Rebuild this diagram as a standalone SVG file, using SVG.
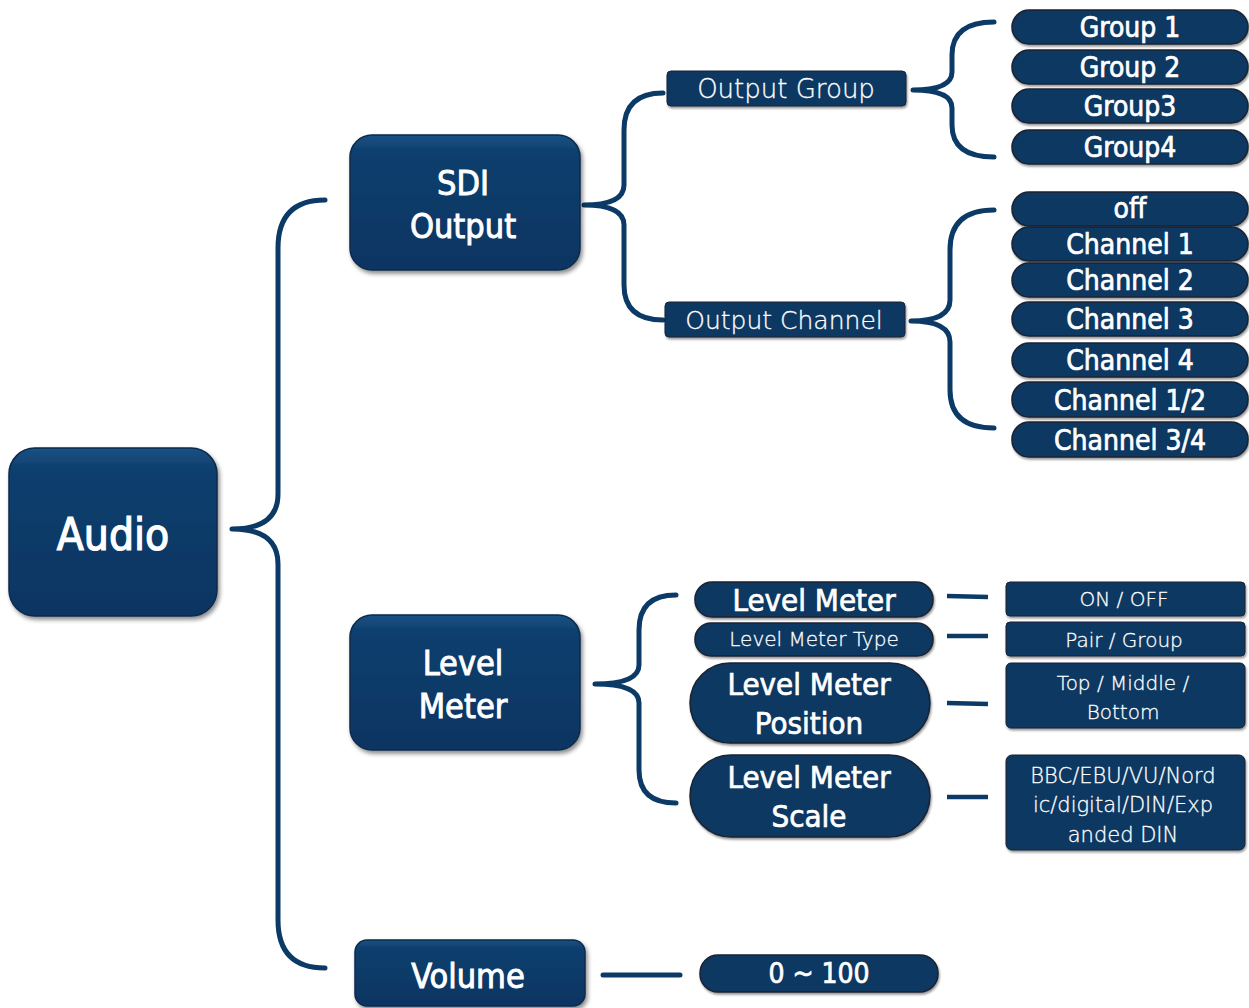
<svg xmlns="http://www.w3.org/2000/svg" width="1249" height="1008" viewBox="0 0 1249 1008">
<defs>
<linearGradient id="boxg" x1="0" y1="0" x2="0" y2="1">
<stop offset="0" stop-color="#1b5286"/>
<stop offset="0.12" stop-color="#0e3f6d"/>
<stop offset="1" stop-color="#093562"/>
</linearGradient>
<filter id="sh" x="-10%" y="-10%" width="125%" height="130%">
<feDropShadow dx="2" dy="3" stdDeviation="2" flood-color="#000" flood-opacity="0.45"/>
</filter>
<filter id="sh2" x="-5%" y="-20%" width="110%" height="150%">
<feDropShadow dx="1" dy="2" stdDeviation="1.2" flood-color="#000" flood-opacity="0.4"/>
</filter>
</defs>
<style>
.box{fill:url(#boxg);stroke:#0a2a4a;stroke-width:1.5;filter:url(#sh)}
.pill{fill:#0a3762;stroke:#1c2330;stroke-width:1.5;filter:url(#sh2)}
.rbox{fill:#0a3762;stroke:#1c2330;stroke-width:1;filter:url(#sh2)}
.conn{fill:none;stroke:#0c3a66;stroke-width:5;stroke-linecap:round;stroke-linejoin:round}
.dash{fill:none;stroke:#0c3a66;stroke-width:4.5}
text{fill:#ffffff;stroke:#ffffff;stroke-width:0.7;text-anchor:middle;font-family:"DejaVu Sans Condensed","DejaVu Sans",sans-serif;font-stretch:condensed}
.big{font-size:44px;stroke-width:1.2}
.mid{font-size:34px;stroke-width:0.9}
.opt{font-size:28px}
.lt{font-family:"DejaVu Sans",sans-serif;font-weight:200;font-stretch:normal;stroke-width:0.3}
</style>
<g id="connectors">
<path class="conn" d="M325,200 Q278,200 278,248 L278,494 Q278,529 232,529 Q278,529 278,564 L278,920 Q278,968 325,968"/>
<path class="conn" d="M663,93 Q624,93 624,130 L624,185 Q624,205 584,205 Q624,205 624,225 L624,285 Q624,320 663,320"/>
<path class="conn" d="M994,22 Q952,22 952,55 L952,72 Q952,90 913,90 Q952,90 952,108 L952,125 Q952,157 994,157"/>
<path class="conn" d="M994,210 Q950,210 950,250 L950,300 Q950,321 911,321 Q950,321 950,342 L950,390 Q950,428 994,428"/>
<path class="conn" d="M676,595 Q639,595 639,630 L639,665 Q639,684 595,684 Q639,684 639,703 L639,770 Q639,803 676,803"/>
<line class="dash" x1="947" y1="596" x2="988" y2="597"/>
<line class="dash" x1="947" y1="636" x2="988" y2="636"/>
<line class="dash" x1="947" y1="703" x2="988" y2="704"/>
<line class="dash" x1="947" y1="797" x2="988" y2="797"/>
<line class="conn" x1="603" y1="975" x2="680" y2="975"/>
</g>
<g id="audio"><rect class="box" x="9" y="448" width="208" height="168" rx="26"/><text class="big" x="113" y="550">Audio</text></g>
<g id="sdi-output"><rect class="box" x="350" y="135" width="230" height="135" rx="22"/><text class="mid" x="463" y="195">SDI</text><text class="mid" x="463" y="238">Output</text></g>
<g id="level-meter"><rect class="box" x="350" y="615" width="230" height="135" rx="22"/><text class="mid" x="463" y="675">Level</text><text class="mid" x="463" y="718">Meter</text></g>
<g id="volume"><rect class="box" x="355" y="940" width="230" height="66" rx="12"/><text class="mid" x="468" y="988">Volume</text></g>
<g id="output-group"><rect class="rbox" x="667" y="71" width="239" height="35" rx="4"/><text class="lt" font-size="26" x="786" y="98">Output Group</text></g>
<g id="output-channel"><rect class="rbox" x="665" y="302" width="240" height="35" rx="4"/><text class="lt" font-size="25" x="784" y="329">Output Channel</text></g>
<g id="group1"><rect class="pill" x="1012" y="10" width="236" height="34" rx="17"/><text class="opt" x="1130" y="37">Group 1</text></g>
<g id="group2"><rect class="pill" x="1012" y="50" width="236" height="34" rx="17"/><text class="opt" x="1130" y="77">Group 2</text></g>
<g id="group3"><rect class="pill" x="1012" y="89" width="236" height="34" rx="17"/><text class="opt" x="1130" y="116">Group3</text></g>
<g id="group4"><rect class="pill" x="1012" y="130" width="236" height="34" rx="17"/><text class="opt" x="1130" y="157">Group4</text></g>
<g id="off"><rect class="pill" x="1012" y="192" width="236" height="34" rx="17"/><text class="opt" x="1130" y="218">off</text></g>
<g id="channel1"><rect class="pill" x="1012" y="227" width="236" height="34" rx="17"/><text class="opt" x="1130" y="254">Channel 1</text></g>
<g id="channel2"><rect class="pill" x="1012" y="263" width="236" height="34" rx="17"/><text class="opt" x="1130" y="290">Channel 2</text></g>
<g id="channel3"><rect class="pill" x="1012" y="302" width="236" height="34" rx="17"/><text class="opt" x="1130" y="329">Channel 3</text></g>
<g id="channel4"><rect class="pill" x="1012" y="343" width="236" height="34" rx="17"/><text class="opt" x="1130" y="370">Channel 4</text></g>
<g id="channel12"><rect class="pill" x="1012" y="382" width="236" height="35" rx="17"/><text class="opt" x="1130" y="410">Channel 1/2</text></g>
<g id="channel34"><rect class="pill" x="1012" y="422" width="236" height="35" rx="17"/><text class="opt" x="1130" y="450">Channel 3/4</text></g>
<g id="lm-onoff-item"><rect class="pill" x="695" y="582" width="238" height="35" rx="17"/><text font-size="31" x="814" y="611">Level Meter</text></g>
<g id="lm-type-item"><rect class="pill" x="695" y="623" width="238" height="33" rx="16"/><text class="lt" font-size="20" x="814" y="646">Level Meter Type</text></g>
<g id="lm-position-item"><rect class="pill" x="690" y="663" width="240" height="80" rx="40"/><text font-size="31" x="809" y="695">Level Meter</text><text font-size="31" x="809" y="734">Position</text></g>
<g id="lm-scale-item"><rect class="pill" x="690" y="755" width="240" height="82" rx="41"/><text font-size="31" x="809" y="788">Level Meter</text><text font-size="31" x="809" y="827">Scale</text></g>
<g id="onoff"><rect class="rbox" x="1006" y="582" width="239" height="34" rx="4"/><text class="lt" font-size="20" x="1124" y="606">ON / OFF</text></g>
<g id="pairgroup"><rect class="rbox" x="1006" y="622" width="239" height="34" rx="4"/><text class="lt" font-size="20" x="1124" y="647">Pair / Group</text></g>
<g id="position-vals"><rect class="rbox" x="1006" y="663" width="239" height="65" rx="5"/><text class="lt" font-size="20" x="1123" y="690">Top / Middle /</text><text class="lt" font-size="20" x="1123" y="719">Bottom</text></g>
<g id="scale-vals"><rect class="rbox" x="1006" y="755" width="239" height="95" rx="6"/><text class="lt" font-size="21" x="1123" y="783">BBC/EBU/VU/Nord</text><text class="lt" font-size="21" x="1123" y="812">ic/digital/DIN/Exp</text><text class="lt" font-size="21" x="1123" y="842">anded DIN</text></g>
<g id="volume-range"><rect class="pill" x="700" y="955" width="238" height="37" rx="18"/><text font-size="28" x="819" y="983">0 ~ 100</text></g>
</svg>
